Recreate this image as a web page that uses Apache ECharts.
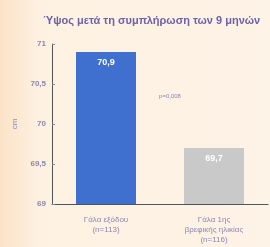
<!DOCTYPE html>
<html><head><meta charset="utf-8">
<script src="https://cdn.jsdelivr.net/npm/echarts@6/dist/echarts.min.js"></script>
<style>html,body{margin:0;padding:0;background:#fdf1e0;}#c{width:270px;height:247px;}</style>
</head><body><div id="c"></div>
<script>
var categories = ['Γάλα εξόδου\n(n=113)', 'Γάλα 1ης\nβρεφικής ηλικίας\n(n=116)'];
var values = [70.9, 69.7];
var valueLabels = ['70,9', '69,7'];
var yTicks = [69, 69.5, 70, 70.5, 71];
var title = 'Ύψος μετά τη συμπλήρωση των 9 μηνών';
var pText = 'p=0,008';
var colors = ['#3f6fcf', '#c9c9c9'];

var chart = echarts.init(document.getElementById('c'));
chart.setOption({
  backgroundColor: {type:'linear', x:0, y:0, x2:1, y2:0, colorStops:[{offset:0,color:'#fbe3c8'},{offset:0.15,color:'#fdf1e2'},{offset:1,color:'#fdf3e6'}]},
  title: {text: title, left: 38, top: 10, textStyle:{fontSize:11, fontWeight:'bold', color:'#6b62a8', fontFamily:'Liberation Sans'}},
  grid: {left: 52, right: 2, top: 44, bottom: 43},
  xAxis: {type:'category', data: categories,
    axisLine:{lineStyle:{color:'#555', width:1}}, axisTick:{show:false},
    axisLabel:{color:'#8a86b8', fontSize:8, lineHeight:10, interval:0, fontFamily:'Liberation Sans', margin:11}},
  yAxis: {type:'value', min: yTicks[0], max: yTicks[yTicks.length-1], interval: 0.5,
    name: 'cm', nameLocation:'middle', nameGap: 33, nameRotate: 90,
    nameTextStyle:{color:'#8a86b8', fontSize:8, fontFamily:'Liberation Sans'},
    axisLine:{show:true, lineStyle:{color:'#555', width:1}},
    axisTick:{show:true, inside:true, length:3, lineStyle:{color:'#888'}},
    splitLine:{show:false},
    axisLabel:{color:'#8a86b8', fontSize:8, fontWeight:'bold', fontFamily:'Liberation Sans', margin:6,
      formatter: function(v){ return String(v).replace('.', ','); }}},
  series: [{type:'bar', barWidth: 60,
    data: values.map(function(v,i){ return {value:v, itemStyle:{color:colors[i]}}; }),
    label:{show:true, position:'insideTop', distance:6, color:'#fff', fontSize:9, fontWeight:'bold', fontFamily:'Liberation Sans',
      formatter: function(p){ return valueLabels[p.dataIndex]; }},
    markPoint: {symbol:'circle', symbolSize:0, silent:true,
      label:{show:true, formatter: pText, color:'#8a86b8', fontSize:6, fontFamily:'Liberation Sans', offset:[64,0]},
      data:[{coord:[0, 70.34]}]}
  }]
});
</script></body></html>
